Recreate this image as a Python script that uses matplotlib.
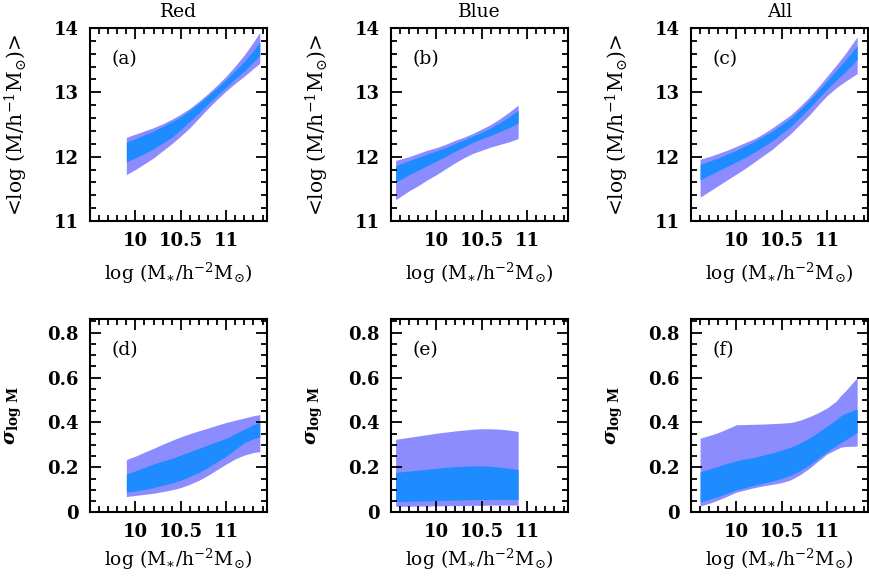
import matplotlib
matplotlib.use("Agg")
import matplotlib.pyplot as plt
from matplotlib.ticker import MultipleLocator

plt.rcParams['font.family'] = ['DejaVu Serif']
plt.rcParams['mathtext.fontset'] = 'dejavuserif'

# ---------------- data ----------------
# Panel (a) Red: <log M>
xa = [9.9, 10.0, 10.1, 10.2, 10.3, 10.4, 10.5, 10.6, 10.7, 10.8, 10.9, 11.0, 11.1, 11.2, 11.3, 11.37]
a_out_hi = [12.30, 12.35, 12.40, 12.45, 12.51, 12.58, 12.66, 12.75, 12.86, 12.98, 13.11, 13.25, 13.41, 13.58, 13.78, 13.93]
a_in_hi = [12.23, 12.28, 12.34, 12.40, 12.47, 12.54, 12.62, 12.72, 12.83, 12.95, 13.07, 13.20, 13.34, 13.48, 13.65, 13.78]
a_in_lo = [11.92, 11.98, 12.05, 12.12, 12.21, 12.30, 12.42, 12.55, 12.68, 12.82, 12.95, 13.08, 13.21, 13.33, 13.47, 13.57]
a_out_lo = [11.72, 11.80, 11.89, 11.98, 12.09, 12.20, 12.32, 12.45, 12.60, 12.75, 12.89, 13.02, 13.14, 13.25, 13.37, 13.45]

# Panel (b) Blue: <log M>
xb = [9.55, 9.7, 9.8, 9.9, 10.0, 10.1, 10.2, 10.3, 10.4, 10.5, 10.6, 10.7, 10.8, 10.9]
b_out_hi = [11.94, 12.00, 12.05, 12.10, 12.14, 12.19, 12.25, 12.30, 12.36, 12.43, 12.50, 12.59, 12.69, 12.80]
b_in_hi = [11.86, 11.94, 11.99, 12.04, 12.09, 12.14, 12.20, 12.26, 12.32, 12.38, 12.45, 12.53, 12.62, 12.72]
b_in_lo = [11.60, 11.72, 11.79, 11.86, 11.93, 12.00, 12.08, 12.15, 12.22, 12.28, 12.33, 12.39, 12.45, 12.52]
b_out_lo = [11.33, 11.47, 11.55, 11.64, 11.72, 11.81, 11.90, 11.98, 12.05, 12.10, 12.15, 12.19, 12.23, 12.28]

# Panel (c) All: <log M>
xc = [9.6, 9.7, 9.8, 9.9, 10.0, 10.1, 10.2, 10.3, 10.4, 10.5, 10.6, 10.7, 10.8, 10.9, 11.0, 11.1, 11.2, 11.33]
c_out_hi = [11.96, 12.00, 12.05, 12.10, 12.16, 12.22, 12.28, 12.36, 12.45, 12.55, 12.65, 12.78, 12.92, 13.08, 13.25, 13.42, 13.60, 13.86]
c_in_hi = [11.88, 11.93, 11.98, 12.04, 12.10, 12.17, 12.24, 12.32, 12.40, 12.50, 12.60, 12.73, 12.87, 13.02, 13.18, 13.34, 13.50, 13.72]
c_in_lo = [11.64, 11.71, 11.78, 11.85, 11.92, 11.99, 12.07, 12.16, 12.25, 12.36, 12.47, 12.61, 12.75, 12.90, 13.05, 13.19, 13.32, 13.51]
c_out_lo = [11.37, 11.46, 11.55, 11.64, 11.73, 11.82, 11.92, 12.02, 12.12, 12.24, 12.36, 12.50, 12.64, 12.80, 12.95, 13.07, 13.17, 13.29]

# Panel (d) Red: sigma
xd = [9.9, 10.0, 10.1, 10.2, 10.3, 10.4, 10.5, 10.6, 10.7, 10.8, 10.9, 11.0, 11.1, 11.2, 11.3, 11.37]
d_out_hi = [0.235, 0.25, 0.268, 0.285, 0.303, 0.32, 0.336, 0.35, 0.363, 0.375, 0.388, 0.40, 0.41, 0.42, 0.43, 0.435]
d_in_hi = [0.17, 0.185, 0.20, 0.215, 0.228, 0.24, 0.255, 0.27, 0.285, 0.30, 0.315, 0.33, 0.35, 0.37, 0.39, 0.40]
d_in_lo = [0.09, 0.095, 0.102, 0.11, 0.12, 0.13, 0.143, 0.16, 0.178, 0.20, 0.225, 0.25, 0.28, 0.31, 0.328, 0.335]
d_out_lo = [0.07, 0.075, 0.08, 0.085, 0.092, 0.10, 0.11, 0.125, 0.143, 0.165, 0.19, 0.215, 0.238, 0.255, 0.266, 0.27]

# Panel (e) Blue: sigma
xe = [9.55, 9.7, 9.8, 9.9, 10.0, 10.1, 10.2, 10.3, 10.4, 10.5, 10.6, 10.7, 10.8, 10.9]
e_out_hi = [0.325, 0.334, 0.34, 0.346, 0.352, 0.357, 0.362, 0.366, 0.370, 0.372, 0.372, 0.370, 0.366, 0.36]
e_in_hi = [0.178, 0.184, 0.188, 0.192, 0.196, 0.200, 0.203, 0.205, 0.207, 0.207, 0.205, 0.201, 0.196, 0.19]
e_in_lo = [0.048, 0.049, 0.05, 0.051, 0.052, 0.053, 0.054, 0.055, 0.056, 0.057, 0.057, 0.057, 0.057, 0.056]
e_out_lo = [0.027, 0.027, 0.028, 0.028, 0.029, 0.029, 0.030, 0.030, 0.031, 0.031, 0.032, 0.032, 0.032, 0.032]

# Panel (f) All: sigma
xf = [9.6, 9.7, 9.8, 9.9, 10.0, 10.1, 10.2, 10.3, 10.4, 10.5, 10.6, 10.7, 10.8, 10.9, 11.0, 11.1, 11.15, 11.2, 11.33]
f_out_hi = [0.33, 0.342, 0.355, 0.372, 0.39, 0.391, 0.392, 0.393, 0.395, 0.397, 0.40, 0.41, 0.425, 0.443, 0.465, 0.495, 0.52, 0.54, 0.60]
f_in_hi = [0.18, 0.193, 0.205, 0.218, 0.23, 0.238, 0.245, 0.255, 0.265, 0.277, 0.29, 0.308, 0.33, 0.356, 0.385, 0.413, 0.43, 0.44, 0.46]
f_in_lo = [0.045, 0.058, 0.07, 0.085, 0.10, 0.11, 0.12, 0.13, 0.14, 0.151, 0.165, 0.185, 0.21, 0.24, 0.27, 0.297, 0.31, 0.322, 0.355]
f_out_lo = [0.028, 0.04, 0.055, 0.072, 0.09, 0.10, 0.11, 0.118, 0.125, 0.132, 0.145, 0.167, 0.195, 0.228, 0.26, 0.28, 0.29, 0.293, 0.295]

titles = ['Red', 'Blue', 'All']
letters = ['(a)', '(b)', '(c)', '(d)', '(e)', '(f)']
xticks = [10, 10.5, 11]
xticklabels = ['10', '10.5', '11']
yticks_top = [11, 12, 13, 14]
yticklabels_top = ['11', '12', '13', '14']
yticks_bot = [0, 0.2, 0.4, 0.6, 0.8]
yticklabels_bot = ['0', '0.2', '0.4', '0.6', '0.8']

OUTER = '#8c8cff'
INNER = '#1e8cff'

panels = [
    (xa, a_out_lo, a_out_hi, a_in_lo, a_in_hi),
    (xb, b_out_lo, b_out_hi, b_in_lo, b_in_hi),
    (xc, c_out_lo, c_out_hi, c_in_lo, c_in_hi),
    (xd, d_out_lo, d_out_hi, d_in_lo, d_in_hi),
    (xe, e_out_lo, e_out_hi, e_in_lo, e_in_hi),
    (xf, f_out_lo, f_out_hi, f_in_lo, f_in_hi),
]

fig = plt.figure(figsize=(8.69, 5.76), dpi=100)
lefts = [0.1036, 0.45, 0.7952]
bottoms = [0.6163, 0.1106]
w, h = 0.2037, 0.3353

xlabel = r'log (M$_{\ast}$/h$^{-2}$M$_{\odot}$)'
ylabel_top = r'<log (M/h$^{-1}$M$_{\odot}$)>'
ylabel_bot = r'$\boldsymbol{\sigma}_{\mathbf{log\ M}}$'

for i, (x, olo, ohi, ilo, ihi) in enumerate(panels):
    row, col = divmod(i, 3)
    ax = fig.add_axes([lefts[col], bottoms[row], w, h])
    ax.fill_between(x, olo, ohi, color=OUTER, lw=0)
    ax.fill_between(x, ilo, ihi, color=INNER, lw=0)
    ax.set_xlim(9.5, 11.45)
    ax.set_xticks(xticks)
    ax.set_xticklabels(xticklabels, fontweight='bold')
    ax.xaxis.set_minor_locator(MultipleLocator(0.1))
    if row == 0:
        ax.set_ylim(11, 14)
        ax.set_yticks(yticks_top)
        ax.set_yticklabels(yticklabels_top, fontweight='bold')
        ax.yaxis.set_minor_locator(MultipleLocator(0.2))
        ax.set_ylabel(ylabel_top, fontsize=14.5, labelpad=17)
        ax.set_title(titles[col], fontsize=13.5, pad=8)
        ax.set_xlabel(xlabel, fontsize=13.5, labelpad=8)
    else:
        ax.set_ylim(0, 0.86)
        ax.set_yticks(yticks_bot)
        ax.set_yticklabels(yticklabels_bot, fontweight='bold')
        ax.yaxis.set_minor_locator(MultipleLocator(0.05))
        ax.set_ylabel(ylabel_bot, fontsize=14, labelpad=17)
        ax.set_xlabel(xlabel, fontsize=13.5, labelpad=4)
    ax.tick_params(which='both', direction='in', top=True, right=True, width=1.3,
                   labelsize=13)
    ax.tick_params(which='major', length=8, pad=8)
    ax.tick_params(which='minor', length=4)
    for s in ax.spines.values():
        s.set_linewidth(1.5)
    ax.text(0.12, 0.84, letters[i], transform=ax.transAxes, fontsize=13.5,
            ha='left', va='center')

fig.savefig('out.png', dpi=100)
